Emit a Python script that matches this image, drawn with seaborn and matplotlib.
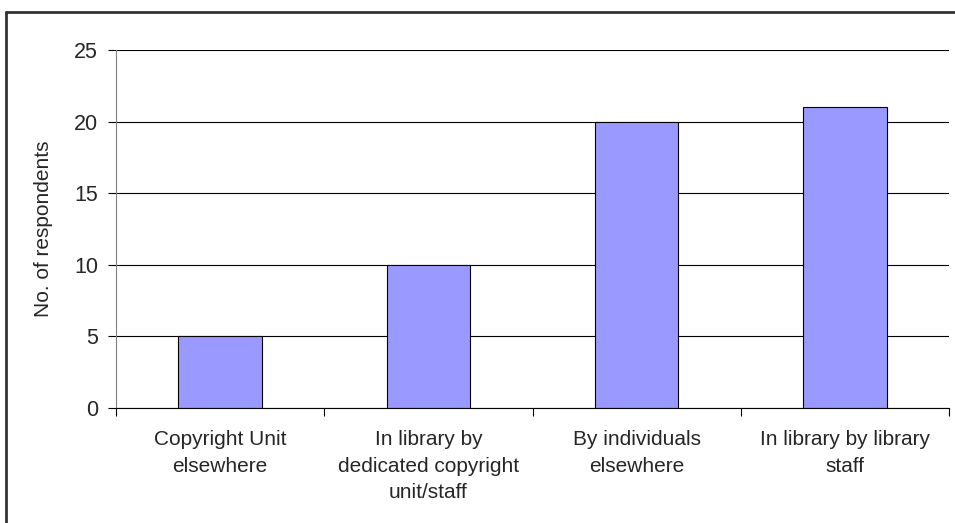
"""
plot.py - Excel-style bar chart of respondents by location of copyright work.
"""

import matplotlib
matplotlib.use("Agg")
import matplotlib.pyplot as plt
import seaborn as sns
import pandas as pd
from matplotlib.lines import Line2D

# ---------- Data ----------
categories = [
    "Copyright Unit\nelsewhere",
    "In library by\ndedicated copyright\nunit/staff",
    "By individuals\nelsewhere",
    "In library by library\nstaff",
]
respondents = [5, 10, 20, 21]
y_ticks = [0, 5, 10, 15, 20, 25]

df = pd.DataFrame({"Category": categories, "Respondents": respondents})

sns.set_style("white")
plt.rcParams["font.family"] = ["Liberation Sans", "DejaVu Sans"]

fig = plt.figure(figsize=(9.55, 5.23), dpi=100)
ax = fig.add_axes([116 / 955, 1 - 408 / 523, (949 - 116) / 955, (408 - 50) / 523])

sns.barplot(data=df, x="Category", y="Respondents", color="#9999FF",
            edgecolor="black", linewidth=0.8, width=0.4, saturation=1, ax=ax)

# gridlines behind bars
ax.set_axisbelow(True)
ax.yaxis.grid(True, color="black", linewidth=0.8)
ax.xaxis.grid(False)

ax.set_ylim(0, 25)
ax.set_yticks(y_ticks)
ax.set_xlim(-0.5, len(categories) - 0.5)

# x ticks at category boundaries, labels centered on bars
ax.set_xticks([i - 0.5 for i in range(len(categories) + 1)], minor=False)
ax.set_xticklabels([])
ax.set_xticks(range(len(categories)), minor=True)
ax.set_xticklabels(categories, minor=True, fontsize=15, linespacing=1.5)
ax.tick_params(axis="x", which="minor", length=0, pad=16)
ax.tick_params(axis="x", which="major", length=6, width=0.8, color="black",
               direction="out", bottom=True)
ax.tick_params(axis="y", length=6, width=0.8, color="black", direction="out",
               left=True, pad=7, labelsize=15.5)

ax.set_xlabel("")
ax.set_ylabel("No. of respondents", fontsize=15, labelpad=15)

for side in ["top", "right"]:
    ax.spines[side].set_visible(False)
ax.spines["left"].set_color("#808080")
ax.spines["left"].set_linewidth(0.8)
ax.spines["bottom"].set_color("black")
ax.spines["bottom"].set_linewidth(0.8)

# outer chart border (only left and top visible in the crop)
fig.add_artist(Line2D([5.5 / 955, 5.5 / 955], [0, 1 - 11.5 / 523],
                      transform=fig.transFigure, color="#333333", linewidth=2))
fig.add_artist(Line2D([5.5 / 955, 1], [1 - 11.5 / 523, 1 - 11.5 / 523],
                      transform=fig.transFigure, color="#333333", linewidth=2))

fig.savefig("out.png", dpi=100)
plt.close(fig)
